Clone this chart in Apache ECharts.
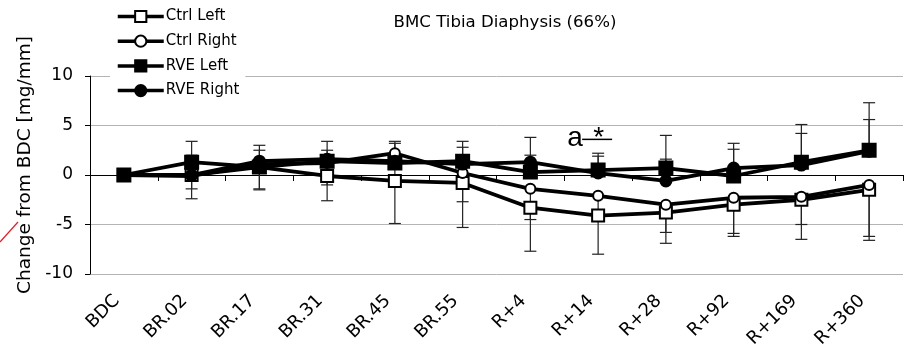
<!DOCTYPE html>
<html>
<head>
<meta charset="utf-8">
<script src="https://cdn.jsdelivr.net/npm/echarts@6/dist/echarts.min.js"></script>
<style>
html,body{margin:0;padding:0;background:#fff;}
#c{width:911px;height:355px;}
</style>
</head>
<body>
<div id="c"></div>
<script>
var categories = ['BDC','BR.02','BR.17','BR.31','BR.45','BR.55','R+4','R+14','R+28','R+92','R+169','R+360'];
var ctrlLeft  = [0, 0.0, 0.8, -0.1, -0.6, -0.8, -3.3, -4.1, -3.8, -3.0, -2.5, -1.5];
var ctrlRight = [0, -0.1, 1.1, 1.2, 2.2, 0.2, -1.4, -2.1, -3.0, -2.3, -2.2, -1.0];
var rveLeft   = [0, 1.3, 0.8, 1.4, 1.2, 1.4, 0.3, 0.5, 0.7, -0.1, 1.3, 2.5];
var rveRight  = [0, 0.0, 1.4, 1.6, 1.4, 1.1, 1.3, 0.2, -0.6, 0.7, 1.0, 2.4];
// error bar magnitudes (Ctrl: minus direction, RVE: plus direction)
var ctrlLeftErr  = [0, 2.4, 2.3, 2.5, 4.3, 4.5, 4.4, 3.9, 3.1, 3.2, 4.0, 5.1];
var ctrlRightErr = [0, 1.3, 2.5, 2.2, 2.5, 2.9, 3.1, 2.2, 2.8, 3.6, 2.8, 5.2];
var rveLeftErr   = [0, 2.1, 1.7, 2.0, 2.0, 2.0, 1.7, 1.7, 3.3, 2.7, 3.8, 4.8];
var rveRightErr  = [0, 2.0, 1.6, 0.9, 2.0, 1.7, 2.5, 1.7, 2.2, 2.5, 3.2, 3.2];
var yTicks = [-10, -5, 0, 5, 10];
var titleText = 'BMC Tibia Diaphysis (66%)';
var yName = 'Change from BDC [mg/mm]';
var seriesNames = ['Ctrl Left', 'Ctrl Right', 'RVE Left', 'RVE Right'];

function errData(vals, errs, dir) {
  return vals.map(function (v, i) { return [i, v, v + dir * errs[i]]; });
}
function errSeries(data) {
  return {
    type: 'custom',
    z: 1,
    silent: true,
    renderItem: function (params, api) {
      var x = api.value(0);
      var p1 = api.coord([x, api.value(1)]);
      var p2 = api.coord([x, api.value(2)]);
      var hw = 6;
      var st = {stroke: '#222', lineWidth: 1.2};
      return {
        type: 'group',
        children: [
          {type: 'line', shape: {x1: p1[0], y1: p1[1], x2: p2[0], y2: p2[1]}, style: st},
          {type: 'line', shape: {x1: p2[0] - hw, y1: p2[1], x2: p2[0] + hw, y2: p2[1]}, style: st}
        ]
      };
    },
    data: data
  };
}
function lineSeries(name, data, symbol, size, filled) {
  return {
    name: name,
    type: 'line',
    z: 3,
    data: data,
    symbol: symbol,
    symbolSize: size,
    showAllSymbol: true,
    lineStyle: {color: '#000', width: 3.8},
    itemStyle: {color: filled ? '#000' : '#fff', borderColor: '#000', borderWidth: 2},
    emphasis: {disabled: true}
  };
}

var chart = echarts.init(document.getElementById('c'), null, {renderer: 'canvas'});
var FONT = 'DejaVu Sans';
chart.setOption({
  animation: false,
  backgroundColor: '#fff',
  title: {
    text: titleText, left: 500, top: 9, textAlign: 'center',
    textStyle: {fontFamily: FONT, fontSize: 16.6, fontWeight: 'normal', color: '#000'}
  },
  legend: {
    orient: 'vertical', left: 110, top: 3,
    padding: [6, 6, 6, 6],
    backgroundColor: '#fff',
    itemWidth: 46, itemHeight: 14, itemGap: 9.7,
    data: seriesNames,
    lineStyle: {width: 3.5},
    textStyle: {fontFamily: FONT, fontSize: 15, color: '#000', padding: [0, 0, 0, -3]}
  },
  grid: {left: 90, right: 8, top: 76, bottom: 81},
  xAxis: {
    type: 'category', data: categories, boundaryGap: true,
    axisLine: {lineStyle: {color: '#000', width: 1}},
    axisTick: {show: true, length: 6, lineStyle: {color: '#000'}},
    axisLabel: {rotate: 45, margin: 17, padding: [0, 10, 0, 0], fontFamily: FONT, fontSize: 18, color: '#000', interval: 0}
  },
  yAxis: {
    type: 'value', min: yTicks[0], max: yTicks[yTicks.length - 1], interval: 5,
    name: yName, nameLocation: 'middle', nameGap: 52,
    nameTextStyle: {fontFamily: FONT, fontSize: 18.5, color: '#000', padding: [0, 0, 0, 20]},
    axisLine: {show: true, lineStyle: {color: '#000', width: 1}},
    axisTick: {show: true, length: 5, lineStyle: {color: '#000'}},
    axisLabel: {margin: 17, fontFamily: FONT, fontSize: 17, color: '#000'},
    splitLine: {lineStyle: {color: '#b4b4b4', width: 1}}
  },
  series: [
    errSeries(errData(ctrlLeft, ctrlLeftErr, -1)),
    errSeries(errData(ctrlRight, ctrlRightErr, -1)),
    errSeries(errData(rveLeft, rveLeftErr, 1)),
    errSeries(errData(rveRight, rveRightErr, 1)),
    lineSeries(seriesNames[0], ctrlLeft, 'rect', 12, false),
    lineSeries(seriesNames[1], ctrlRight, 'circle', 10, false),
    lineSeries(seriesNames[2], rveLeft, 'rect', 13, true),
    lineSeries(seriesNames[3], rveRight, 'circle', 11, true)
  ]
});

var anchor = chart.convertToPixel({xAxisIndex: 0, yAxisIndex: 0}, ['R+14', 3.7]);
chart.setOption({
  graphic: [
    {type: 'text', x: anchor[0] - 31, y: anchor[1] + 14, style: {text: 'a', font: '28px "Liberation Sans"', fill: '#000', textVerticalAlign: 'bottom'}},
    {type: 'text', x: anchor[0] - 5, y: anchor[1] + 14, style: {text: '*', font: '28px "Liberation Sans"', fill: '#000', textVerticalAlign: 'bottom'}},
    {type: 'line', shape: {x1: anchor[0] - 16, y1: anchor[1] + 1, x2: anchor[0] + 14, y2: anchor[1] + 1}, style: {stroke: '#000', lineWidth: 1.5}},
    {type: 'line', shape: {x1: 0, y1: 242, x2: 18, y2: 222}, style: {stroke: '#e0202a', lineWidth: 1.2}}
  ]
});
</script>
</body>
</html>
